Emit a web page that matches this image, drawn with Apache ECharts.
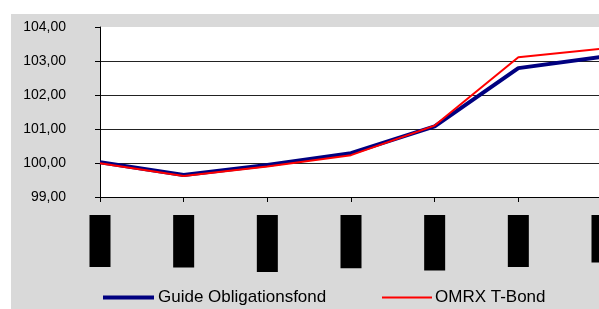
<!doctype html>
<html>
<head>
<meta charset="UTF-8">
<title>Guide Obligationsfond</title>
<script src="https://cdn.jsdelivr.net/npm/echarts@6/dist/echarts.min.js"></script>
<style type="text/css">
	body { margin: 0; background: #fff; overflow: hidden; }
	#chart {
		position: absolute;
		left: 11px;
		top: 14px;
		width: 588px;
		height: 295px;
	}
</style>
</head>
<body>
<div id="chart"></div>
<script type="text/javascript">
// x-axis labels (shown as solid black boxes in the original)
var dates = ['jan 2005', 'feb 2005', 'mar 2005', 'apr 2005', 'maj 2005', 'jun 2005', 'jul 2005'];
var guide = [100.02, 99.65, 99.94, 100.29, 101.08, 102.79, 103.12];
var omrx = [99.99, 99.62, 99.90, 100.23, 101.10, 103.11, 103.36];
var yTicks = [99, 100, 101, 102, 103, 104];

var chart = echarts.init(document.getElementById('chart'));

var option = {
	backgroundColor: '#d9d9d9',
	animation: false,
	textStyle: { fontFamily: 'Liberation Sans, Arial, sans-serif' },
	grid: {
		left: 89,
		top: 13,
		width: 502,
		bottom: 112,
		outerBoundsMode: 'none',
		show: true,
		backgroundColor: '#fff',
		borderWidth: 0
	},
	legend: [{
		data: ['Guide Obligationsfond'],
		left: 92,
		top: 275,
		padding: 0,
		icon: 'rect',
		itemWidth: 51,
		itemHeight: 4,
		itemGap: 0,
		textStyle: { fontSize: 17, color: '#000', padding: [0, 0, 0, -1] }
	}, {
		data: ['OMRX T-Bond'],
		left: 371,
		top: 275,
		padding: 0,
		icon: 'rect',
		itemWidth: 50,
		itemHeight: 2,
		textStyle: { fontSize: 17, color: '#000', padding: [0, 0, 0, -2] }
	}],
	xAxis: {
		type: 'category',
		data: dates,
		boundaryGap: false,
		axisLine: { lineStyle: { color: '#000', width: 1 } },
		axisTick: { show: true, length: 5, lineStyle: { color: '#000' } },
		axisLabel: {
			rotate: 90,
			margin: 18,
			fontSize: 13,
			color: '#000',
			backgroundColor: '#000',
			lineHeight: 21,
			padding: [0, 1]
		}
	},
	yAxis: {
		type: 'value',
		min: yTicks[0],
		max: yTicks[yTicks.length - 1],
		interval: 1,
		axisLine: { show: true, lineStyle: { color: '#000', width: 1 } },
		axisTick: { show: true, length: 5, lineStyle: { color: '#000' } },
		axisLabel: {
			margin: 34,
			fontSize: 14,
			color: '#000',
			formatter: function (v) { return v.toFixed(2).replace('.', ','); }
		},
		splitLine: {
			show: true,
			showMaxLine: false,
			lineStyle: { color: '#222', width: 1 }
		}
	},
	series: [{
		name: 'Guide Obligationsfond',
		type: 'line',
		data: guide,
		symbol: 'none',
		color: '#000080',
		lineStyle: { width: 4, color: '#000080' }
	}, {
		name: 'OMRX T-Bond',
		type: 'line',
		data: omrx,
		symbol: 'none',
		color: '#ff0000',
		lineStyle: { width: 2, color: '#ff0000' }
	}]
};

chart.setOption(option);
</script>
</body>
</html>
